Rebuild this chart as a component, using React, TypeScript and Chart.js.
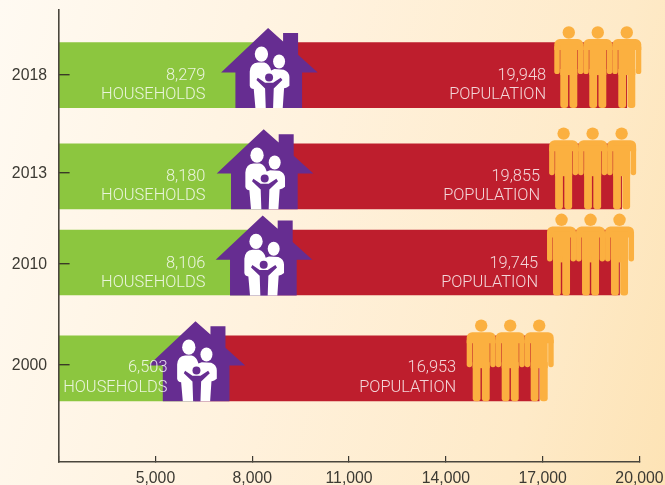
import React, { useEffect, useRef } from "react";
import { Chart, registerables } from "chart.js";

Chart.register(...registerables);

const years = ["2018", "2013", "2010", "2000"];
const households = ["8,279", "8,180", "8,106", "6,503"];
const population = ["19,948", "19,855", "19,745", "16,953"];
// values as drawn in the picture (the graphic is not strictly to scale)
const householdBarEnd = [8491, 8355, 8324, 6241];
const populationBarEnd = [19606, 19446, 19381, 16892];
const householdTextEnd = [6550, 6550, 6550, 5374];
const populationTextEnd = [17106, 16920, 16858, 14320];
// vertical positions on the (uneven) year axis
const yearTickSlots = [65, 162.3, 253.8, 355];
const yearBarSlots = [65.2, 166.3, 252.5, 358.3];

const GREEN = "#8CC63F";
const RED = "#BE1E2D";
const PURPLE = "#662D91";
const ORANGE = "#FBB040";
const INK = "#3c3a33";
const TEXT = "rgba(255,255,255,0.82)";
const FONT = '"Liberation Sans", Arial, sans-serif';
const LIGHT_FONT = 'Roboto, "Liberation Sans", sans-serif';
const BAR_H = 65;

function drawHouse(ctx: CanvasRenderingContext2D, apexX: number, bottomY: number) {
  ctx.save();
  ctx.translate(apexX, bottomY);
  ctx.scale(1 / 3, 1 / 3);
  ctx.translate(-203, -265);
  ctx.fillStyle = PURPLE;
  ctx.beginPath();
  ctx.moveTo(203, 25);
  ctx.lineTo(248, 65);
  ctx.lineTo(248, 40);
  ctx.lineTo(293, 40);
  ctx.lineTo(293, 105);
  ctx.lineTo(352, 158);
  ctx.lineTo(305, 158);
  ctx.lineTo(305, 265);
  ctx.lineTo(105, 265);
  ctx.lineTo(105, 158);
  ctx.lineTo(62, 158);
  ctx.closePath();
  ctx.fill();
  // parents
  ctx.fillStyle = "#fff";
  ctx.beginPath();
  ctx.ellipse(183, 103, 20, 23, 0, 0, Math.PI * 2);
  ctx.fill();
  ctx.beginPath();
  ctx.ellipse(236, 125, 18, 21, 0, 0, Math.PI * 2);
  ctx.fill();
  ctx.beginPath();
  ctx.moveTo(148, 155);
  ctx.quadraticCurveTo(150, 130, 172, 128);
  ctx.lineTo(192, 128);
  ctx.quadraticCurveTo(207, 132, 212, 152);
  ctx.lineTo(222, 148);
  ctx.lineTo(250, 150);
  ctx.quadraticCurveTo(266, 156, 267, 172);
  ctx.lineTo(267, 198);
  ctx.quadraticCurveTo(258, 206, 251, 205);
  ctx.lineTo(247, 265);
  ctx.lineTo(165, 265);
  ctx.lineTo(160, 208);
  ctx.quadraticCurveTo(150, 208, 148, 198);
  ctx.closePath();
  ctx.fill();
  // child
  ctx.fillStyle = PURPLE;
  ctx.beginPath();
  ctx.arc(206, 173, 12, 0, Math.PI * 2);
  ctx.fill();
  ctx.beginPath();
  ctx.moveTo(172, 174);
  ctx.lineTo(194, 189);
  ctx.lineTo(218, 189);
  ctx.lineTo(241, 174);
  ctx.lineTo(246, 181);
  ctx.lineTo(220, 206);
  ctx.lineTo(218, 265);
  ctx.lineTo(196, 265);
  ctx.lineTo(194, 206);
  ctx.lineTo(168, 181);
  ctx.closePath();
  ctx.fill();
  ctx.restore();
}

function drawPerson(ctx: CanvasRenderingContext2D, cx: number, bottomY: number) {
  const top = bottomY - 69;
  ctx.fillStyle = ORANGE;
  ctx.beginPath();
  ctx.arc(cx, bottomY - 75.6, 6.2, 0, Math.PI * 2);
  ctx.fill();
  ctx.beginPath();
  ctx.roundRect(cx - 14.5, top, 29, 11, [5.5, 5.5, 0, 0]);
  ctx.fill();
  for (const s of [-14.5, 9]) {
    ctx.beginPath();
    ctx.roundRect(cx + s, top + 6, 5.5, 29, 2.7);
    ctx.fill();
  }
  ctx.beginPath();
  ctx.rect(cx - 8.5, top + 5, 17, 31);
  ctx.fill();
  for (const s of [-8.5, 0.7]) {
    ctx.beginPath();
    ctx.roundRect(cx + s, top + 30, 7.8, 39, [0, 0, 3, 3]);
    ctx.fill();
  }
}

const pictogramPlugin = {
  id: "pictograms",
  afterDatasetsDraw(chart: any) {
    const { ctx, scales } = chart;
    const xs = scales.x;
    const ys = scales.y;
    years.forEach((_, i) => {
      const mid = ys.getPixelForValue(yearBarSlots[i]);
      const bottom = mid + BAR_H / 2 + 0.4;
      const peopleX = xs.getPixelForValue(populationBarEnd[i]);
      ctx.save();
      [-58, -29, 0].forEach((d) => drawPerson(ctx, peopleX + d, bottom));
      drawHouse(ctx, xs.getPixelForValue(householdBarEnd[i]), bottom);
      ctx.fillStyle = TEXT;
      ctx.textAlign = "right";
      ctx.textBaseline = "middle";
      ctx.font = `300 16.4px ${LIGHT_FONT}`;
      const hx = xs.getPixelForValue(householdTextEnd[i]);
      const px = xs.getPixelForValue(populationTextEnd[i]);
      const dy = i === 3 ? -0.5 : 1;
      ctx.fillText(households[i], hx, mid + dy);
      ctx.fillText("HOUSEHOLDS", hx, mid + 20);
      ctx.fillText(population[i], px, mid + dy);
      ctx.fillText("POPULATION", px, mid + 20);
      ctx.restore();
    });
  },
};

export default function App() {
  const ref = useRef<HTMLCanvasElement>(null);
  useEffect(() => {
    const chart = new Chart(ref.current as HTMLCanvasElement, {
      type: "bar",
      data: {
        datasets: [
          {
            label: "Households",
            data: years.map((_, i) => ({ x: [2000, householdBarEnd[i]], y: yearBarSlots[i] })),
            backgroundColor: GREEN,
          },
          {
            label: "Population",
            data: years.map((_, i) => ({ x: [householdBarEnd[i], populationBarEnd[i]], y: yearBarSlots[i] })),
            backgroundColor: RED,
          },
        ],
      } as any,
      options: {
        indexAxis: "y",
        responsive: false,
        animation: false,
        grouped: false,
        barThickness: BAR_H,
        borderSkipped: false,
        layout: { padding: { top: 10, right: 25.5, left: 0, bottom: 0 } },
        plugins: { legend: { display: false }, tooltip: { enabled: false } },
        scales: {
          x: {
            type: "linear",
            min: 2000,
            max: 20000,
            afterFit(s: any) {
              s.height = 23;
              s.paddingLeft = 0;
              s.paddingRight = 0;
            },
            ticks: {
              stepSize: 3000,
              maxRotation: 0,
              autoSkip: false,
              padding: 13,
              color: INK,
              font: { family: FONT, size: 15.8 },
              callback: (v: any) => (v === 2000 ? "" : Number(v).toLocaleString("en-US")),
            },
            grid: { drawOnChartArea: false, tickLength: -6, tickColor: INK, lineWidth: 1.2, z: 1 },
            border: { color: "#4a463d", width: 1.6, z: 1 },
          },
          y: {
            type: "linear",
            reverse: true,
            offset: false,
            min: 0,
            max: 452,
            afterFit(s: any) {
              s.width = 58.6;
              s.paddingTop = 0;
              s.paddingBottom = 0;
            },
            afterBuildTicks(s: any) {
              s.ticks = yearTickSlots.map((value) => ({ value }));
            },
            ticks: {
              autoSkip: false,
              padding: 22.6,
              labelOffset: 1,
              color: INK,
              font: { family: FONT, size: 15.8 },
              callback: (v: any) => years[yearTickSlots.indexOf(v)] ?? "",
            },
            grid: { offset: false, drawOnChartArea: false, tickLength: -11, tickColor: "#3a3a26", lineWidth: 1.4, z: 1 },
            border: { color: "#4a463d", width: 1.6, z: 1 },
          },
        },
      } as any,
      plugins: [pictogramPlugin],
    });
    return () => chart.destroy();
  }, []);
  return (
    <div
      style={{
        position: "absolute",
        left: 0,
        top: 0,
        width: 665,
        height: 485,
        background: "linear-gradient(105deg, #fffaf2 0%, #fff2de 42%, #feeac8 80%, #fde3b5 100%)",
      }}
    >
      <canvas ref={ref} width={665} height={485} style={{ display: "block" }} />
    </div>
  );
}
